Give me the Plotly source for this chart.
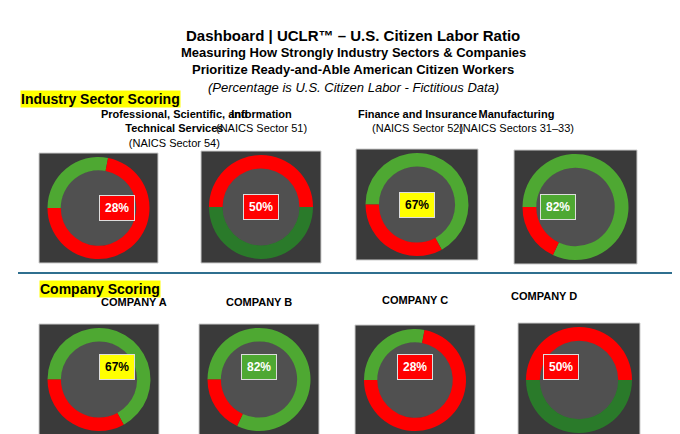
import plotly.graph_objects as go

sector_names = ["Professional, Scientific, and<br>Technical Services", "Information",
                "Finance and Insurance", "Manufacturing"]
sector_codes = ["(NAICS Sector 54)", "(NAICS Sector 51)", "(NAICS Sector 52)", "(NAICS Sectors 31–33)"]
sector_pct = [28, 50, 67, 82]

company_names = ["COMPANY A", "COMPANY B", "COMPANY C", "COMPANY D"]
company_pct = [67, 82, 28, 50]

W, H = 680, 434
# box geometry in pixels: (x0, x1, y0, y1)
top_boxes = [(31, 150, 145, 255), (193, 313, 143, 255), (348, 470, 141, 252), (506, 629, 142, 256)]
bot_boxes = [(31, 151, 316, 427), (191, 311, 316, 427), (347, 467, 317, 427), (510, 632, 315, 429)]
bot_label_y = [302, 302, 300, 296]

GREEN, DKGREEN, RED = "#4ea832", "#2a7a2a", "#ff0000"
FONT = "Liberation Sans, Arial"

fig = go.Figure()
shapes, annotations = [], []


def px(x):
    return x / W


def py(y):
    return 1 - y / H


def add_donut(box, pct):
    x0, x1, y0, y1 = box
    shapes.append(dict(type="rect", xref="paper", yref="paper", x0=px(x0), x1=px(x1),
                       y0=py(y1), y1=py(y0), fillcolor="#3a3a3a", line=dict(color="#cccccc", width=1),
                       layer="below"))
    cx, cy = (x0 + x1) / 2, (y0 + y1) / 2
    r = min(x1 - x0, y1 - y0) / 2 - 4
    shapes.append(dict(type="circle", xref="paper", yref="paper", x0=px(cx - r * 0.75), x1=px(cx + r * 0.75),
                       y0=py(cy + r * 0.75), y1=py(cy - r * 0.75), fillcolor="#505050",
                       line=dict(width=0), layer="below"))
    half = pct == 50
    green = DKGREEN if half else GREEN
    fig.add_trace(go.Pie(values=[pct, 100 - pct], marker=dict(colors=[green, RED], line=dict(width=0)),
                         hole=0.74, sort=False, direction="clockwise", rotation=90 if half else 270,
                         textinfo="none", hoverinfo="skip", showlegend=False,
                         domain=dict(x=[px(cx - r), px(cx + r)], y=[py(cy + r), py(cy - r)])))
    if pct >= 80:
        bg, fc = GREEN, "white"
    elif pct >= 60:
        bg, fc = "#ffff00", "black"
    else:
        bg, fc = RED, "white"
    annotations.append(dict(x=px(cx), y=py(cy), xref="paper", yref="paper", text=f"<b>{pct}%</b>",
                            showarrow=False, bgcolor=bg, borderpad=5, bordercolor="#dddddd", borderwidth=1,
                            font=dict(color=fc, size=12, family=FONT)))


for b, p, n, c in zip(top_boxes, sector_pct, sector_names, sector_codes):
    add_donut(b, p)
    annotations.append(dict(x=px((b[0] + b[1]) / 2), y=py(98), xref="paper", yref="paper",
                            yanchor="top", showarrow=False, text=f"<b>{n}</b><br>{c}",
                            font=dict(size=11, family=FONT, color="black")))

for b, p, n, ly in zip(bot_boxes, company_pct, company_names, bot_label_y):
    add_donut(b, p)
    annotations.append(dict(x=px((b[0] + b[1]) / 2), y=py(ly), xref="paper", yref="paper",
                            showarrow=False, text=f"<b>{n}</b>",
                            font=dict(size=11, family=FONT, color="black")))

shapes.append(dict(type="line", xref="paper", yref="paper", x0=px(10), x1=px(666), y0=py(265), y1=py(265),
                   line=dict(color="#2f6f8f", width=2)))

head = [("<b>Dashboard | UCLR™ – U.S. Citizen Labor Ratio</b>", 17, 15),
        ("<b>Measuring How Strongly Industry Sectors & Companies</b>", 35, 13),
        ("<b>Prioritize Ready-and-Able American Citizen Workers</b>", 52, 13),
        ("<i>(Percentage is U.S. Citizen Labor - Fictitious Data)</i>", 70, 13)]
for t, y, s in head:
    annotations.append(dict(x=px(345), y=py(y), xref="paper", yref="paper", text=t, showarrow=False,
                            font=dict(size=s, family=FONT, color="black")))

for t, x, y in [("Industry Sector Scoring", 12, 82), ("Company Scoring", 31, 281)]:
    annotations.append(dict(x=px(x), y=py(y), xref="paper", yref="paper", xanchor="left",
                            text=f"<b>{t}</b>", showarrow=False, bgcolor="#ffff00", borderpad=0,
                            font=dict(size=14, family=FONT, color="black")))

fig.update_layout(width=W, height=H, margin=dict(l=0, r=0, t=0, b=0), paper_bgcolor="white",
                  plot_bgcolor="white", shapes=shapes, annotations=annotations)
fig.write_html("out.html")
